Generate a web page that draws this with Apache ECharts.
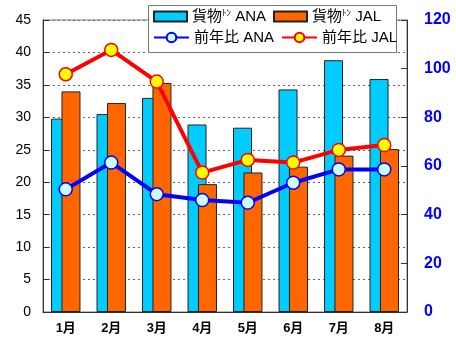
<!DOCTYPE html>
<html><head><meta charset="utf-8">
<script src="https://cdn.jsdelivr.net/npm/echarts@6/dist/echarts.min.js"></script>
<style>html,body{margin:0;padding:0;background:#fff}#c{width:456px;height:357px}</style>
</head><body><div id="c"></div>
<script>
const categories = ['1月','2月','3月','4月','5月','6月','7月','8月'];
const cargoANA = [29.8, 30.5, 33.0, 28.9, 28.4, 34.3, 38.8, 35.9];
const cargoJAL = [34.0, 32.2, 35.3, 19.7, 21.5, 22.4, 24.1, 25.1];
const yoyANA = [50.4, 61.4, 48.4, 46.0, 44.9, 53.1, 58.6, 58.6];
const yoyJAL = [97.7, 107.7, 94.7, 57.3, 62.5, 61.4, 66.6, 68.6];
const leftTicks = {min:0, max:45, interval:5};
const rightTicks = {min:0, max:120, interval:20};
const names = ['貨物ﾄﾝ ANA','貨物ﾄﾝ JAL','前年比 ANA','前年比 JAL'];

const font = '"Liberation Sans","Noto Sans CJK JP",sans-serif';
const legendText = {
  fontFamily: font, fontSize: 15, color: '#000',
  rich: { s: { fontFamily: font, fontSize: 9, color: '#000', verticalAlign: 'top', padding:[0,0,4,0] } }
};
const fmt = n => n.replace('ﾄﾝ', '{s|ﾄﾝ}');

const chart = echarts.init(document.getElementById('c'), null, {renderer:'canvas'});
chart.setOption({
  animation: false,
  backgroundColor: '#fff',
  grid: {left: 43, right: 49, top: 20, bottom: 45, show: true, borderColor: '#777', borderWidth: 1, backgroundColor: 'transparent'},
  graphic: [{type:'rect', left:148, top:5, z:50, shape:{width:248, height:47}, style:{fill:'#fff', stroke:'#777', lineWidth:1}}],
  legend: [
    {data:[{name:names[0], icon:'rect'}, {name:names[1], icon:'rect'}], left:153, top:9, padding:0, itemGap:7, itemWidth:33, itemHeight:10, z:60,
     formatter: fmt, textStyle: legendText},
    {data:[names[2], names[3]], left:153, top:30, padding:0, itemGap:7, itemWidth:35, itemHeight:12, z:60,
     formatter: fmt, textStyle: legendText}
  ],
  xAxis: {
    type: 'category', data: categories, boundaryGap: true,
    axisLine: {lineStyle:{color:'#333', width:1}},
    axisTick: {inside:true, length:5, lineStyle:{color:'#333'}},
    axisLabel: {fontFamily: font, fontSize: 13, fontWeight:'bold', color:'#000', margin: 10}
  },
  yAxis: [
    {type:'value', min:leftTicks.min, max:leftTicks.max, interval:leftTicks.interval,
     axisLine:{show:true, lineStyle:{color:'#333'}},
     axisTick:{show:true, inside:true, length:6, lineStyle:{color:'#333'}},
     splitLine:{show:true, lineStyle:{color:'#666', type:[2,3], width:1}},
     axisLabel:{fontFamily: font, fontSize:14, color:'#000', margin:12}},
    {type:'value', min:rightTicks.min, max:rightTicks.max, interval:rightTicks.interval, position:'right',
     axisLine:{show:true, lineStyle:{color:'#333'}},
     axisTick:{show:true, inside:true, length:6, lineStyle:{color:'#333'}},
     splitLine:{show:false},
     axisLabel:{fontFamily: font, fontSize:16, fontWeight:'bold', color:'#0000ff', margin:17}}
  ],
  series: [
    {name:names[0], type:'bar', data:cargoANA, barWidth:19, barGap:'-45%',
     itemStyle:{color:'#00ccff', borderColor:'#222', borderWidth:1}},
    {name:names[1], type:'bar', data:cargoJAL, barWidth:19, barGap:'-45%',
     itemStyle:{color:'#ff6600', borderColor:'#222', borderWidth:1}},
    {name:names[2], type:'line', yAxisIndex:1, data:yoyANA, z:10,
     symbol:'circle', symbolSize:13,
     lineStyle:{color:'#0000ff', width:4},
     itemStyle:{color:'#ccffff', borderColor:'#0000ff', borderWidth:1.5}},
    {name:names[3], type:'line', yAxisIndex:1, data:yoyJAL, z:11,
     symbol:'circle', symbolSize:13,
     lineStyle:{color:'#ff0000', width:4},
     itemStyle:{color:'#ffff00', borderColor:'#ff0000', borderWidth:1.5}}
  ]
});
</script></body></html>
